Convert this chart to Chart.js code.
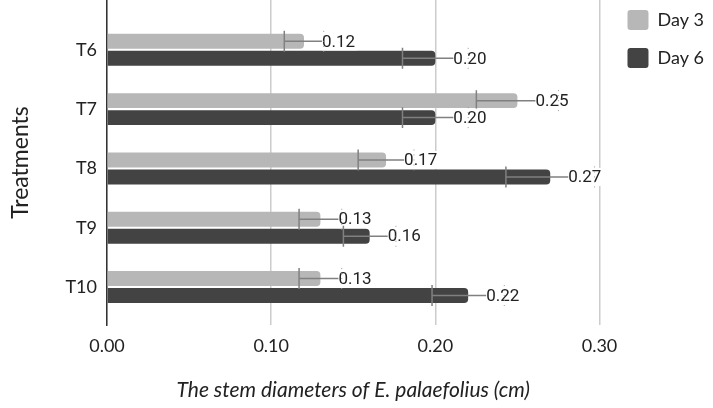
<!DOCTYPE html>
<html>
<head>
<meta charset="utf-8">
<script src="https://cdn.jsdelivr.net/npm/chart.js@4"></script>
<style>body{margin:0;background:#fff}</style>
</head>
<body>
<canvas id="chart" width="713" height="408"></canvas>
<script>
var treatments = ['T6', 'T7', 'T8', 'T9', 'T10'];
var day3 = [0.12, 0.25, 0.17, 0.13, 0.13];
var day6 = [0.20, 0.20, 0.27, 0.16, 0.22];
var day3Err = [0.012, 0.025, 0.017, 0.013, 0.013];
var day6Err = [0.020, 0.020, 0.027, 0.016, 0.022];
var xTicks = [0, 0.1, 0.2, 0.3];

Chart.defaults.font.family = 'Lato';
Chart.defaults.color = '#222';

function points(vals) {
    return vals.map(function(v, i) { return {x: v, y: i}; });
}

// error bars + value labels
var errorBars = {
    id: 'errorBars',
    afterDatasetsDraw: function(chart) {
        var ctx = chart.ctx;
        var xs = chart.scales.x;
        chart.data.datasets.forEach(function(ds, di) {
            var meta = chart.getDatasetMeta(di);
            meta.data.forEach(function(bar, i) {
                var v = ds.data[i].x, e = ds.err[i];
                var lo = xs.getPixelForValue(v - e), hi = xs.getPixelForValue(v + e);
                var y = bar.y, h = bar.height / 2 + 3;
                ctx.save();
                ctx.strokeStyle = '#808080';
                ctx.lineWidth = 1.5;
                ctx.beginPath();
                ctx.moveTo(lo, y); ctx.lineTo(hi, y);
                ctx.moveTo(lo, y - h); ctx.lineTo(lo, y + h);
                ctx.stroke();

                var txt = v.toFixed(2);
                ctx.font = '17px Roboto';
                var tx = bar.x + 18;
                var w = ctx.measureText(txt).width;
                ctx.fillStyle = '#fff';
                ctx.fillRect(tx, y - 9, w + 2, 18);
                ctx.fillStyle = '#222';
                ctx.textAlign = 'left';
                ctx.textBaseline = 'middle';
                ctx.fillText(txt, tx, y + 1);

                ctx.strokeStyle = '#999';
                ctx.lineWidth = 1;
                ctx.setLineDash([1, 4]);
                ctx.beginPath();
                ctx.moveTo(hi, y - h); ctx.lineTo(hi, y + h);
                ctx.stroke();
                ctx.restore();
            });
        });
    }
};

// nudge legend into place
var legendNudge = {
    id: 'legendNudge',
    afterLayout: function(chart) {
        var lg = chart.legend;
        lg.left += 10; lg.right += 10;
        lg.top -= 8; lg.bottom -= 8;
    }
};

new Chart(document.getElementById('chart'), {
    type: 'bar',
    data: {
        datasets: [{
            label: 'Day 3',
            data: points(day3),
            err: day3Err,
            backgroundColor: '#b7b7b7',
            borderRadius: 4,
            borderWidth: 0
        }, {
            label: 'Day 6',
            data: points(day6),
            err: day6Err,
            backgroundColor: '#434343',
            borderRadius: 4,
            borderWidth: 0
        }]
    },
    options: {
        indexAxis: 'y',
        responsive: false,
        animation: false,
        categoryPercentage: 0.573,
        barPercentage: 0.88,
        layout: {padding: {left: 0, right: 9, top: 0, bottom: 0}},
        plugins: {
            tooltip: {enabled: false},
            legend: {
                position: 'right',
                align: 'start',
                labels: {
                    boxWidth: 21,
                    boxHeight: 20,
                    padding: 18,
                    useBorderRadius: true,
                    borderRadius: 3,
                    font: {size: 18}
                }
            }
        },
        scales: {
            x: {
                type: 'linear',
                min: 0,
                max: 0.3,
                afterBuildTicks: function(s) {
                    s.ticks = xTicks.map(function(v) { return {value: v}; });
                },
                afterFit: function(s) { s.height = 83; },
                ticks: {
                    padding: 10,
                    font: {size: 18},
                    callback: function(v) { return Number(v).toFixed(2); }
                },
                grid: {color: '#cccccc', lineWidth: 1.5, drawTicks: false},
                border: {display: false},
                title: {
                    display: true,
                    text: 'The stem diameters of E. palaefolius (cm)',
                    font: {size: 21, style: 'italic'},
                    padding: {top: 5, bottom: 5}
                }
            },
            y: {
                type: 'linear',
                reverse: true,
                offset: false,
                min: -0.84,
                max: 4.64,
                afterBuildTicks: function(s) {
                    s.ticks = treatments.map(function(t, i) { return {value: i}; });
                },
                afterFit: function(s) {
                    s.width = 107;
                    s.paddingTop = 0;
                    s.paddingBottom = 0;
                },
                ticks: {
                    padding: 2,
                    font: {size: 18},
                    callback: function(v) { return treatments[v]; }
                },
                grid: {display: false},
                border: {display: true, color: '#333', width: 1.5},
                title: {
                    display: true,
                    text: 'Treatments',
                    font: {size: 23},
                    padding: {top: 7, bottom: 4}
                }
            }
        }
    },
    plugins: [errorBars, legendNudge]
});
</script>
</body>
</html>
